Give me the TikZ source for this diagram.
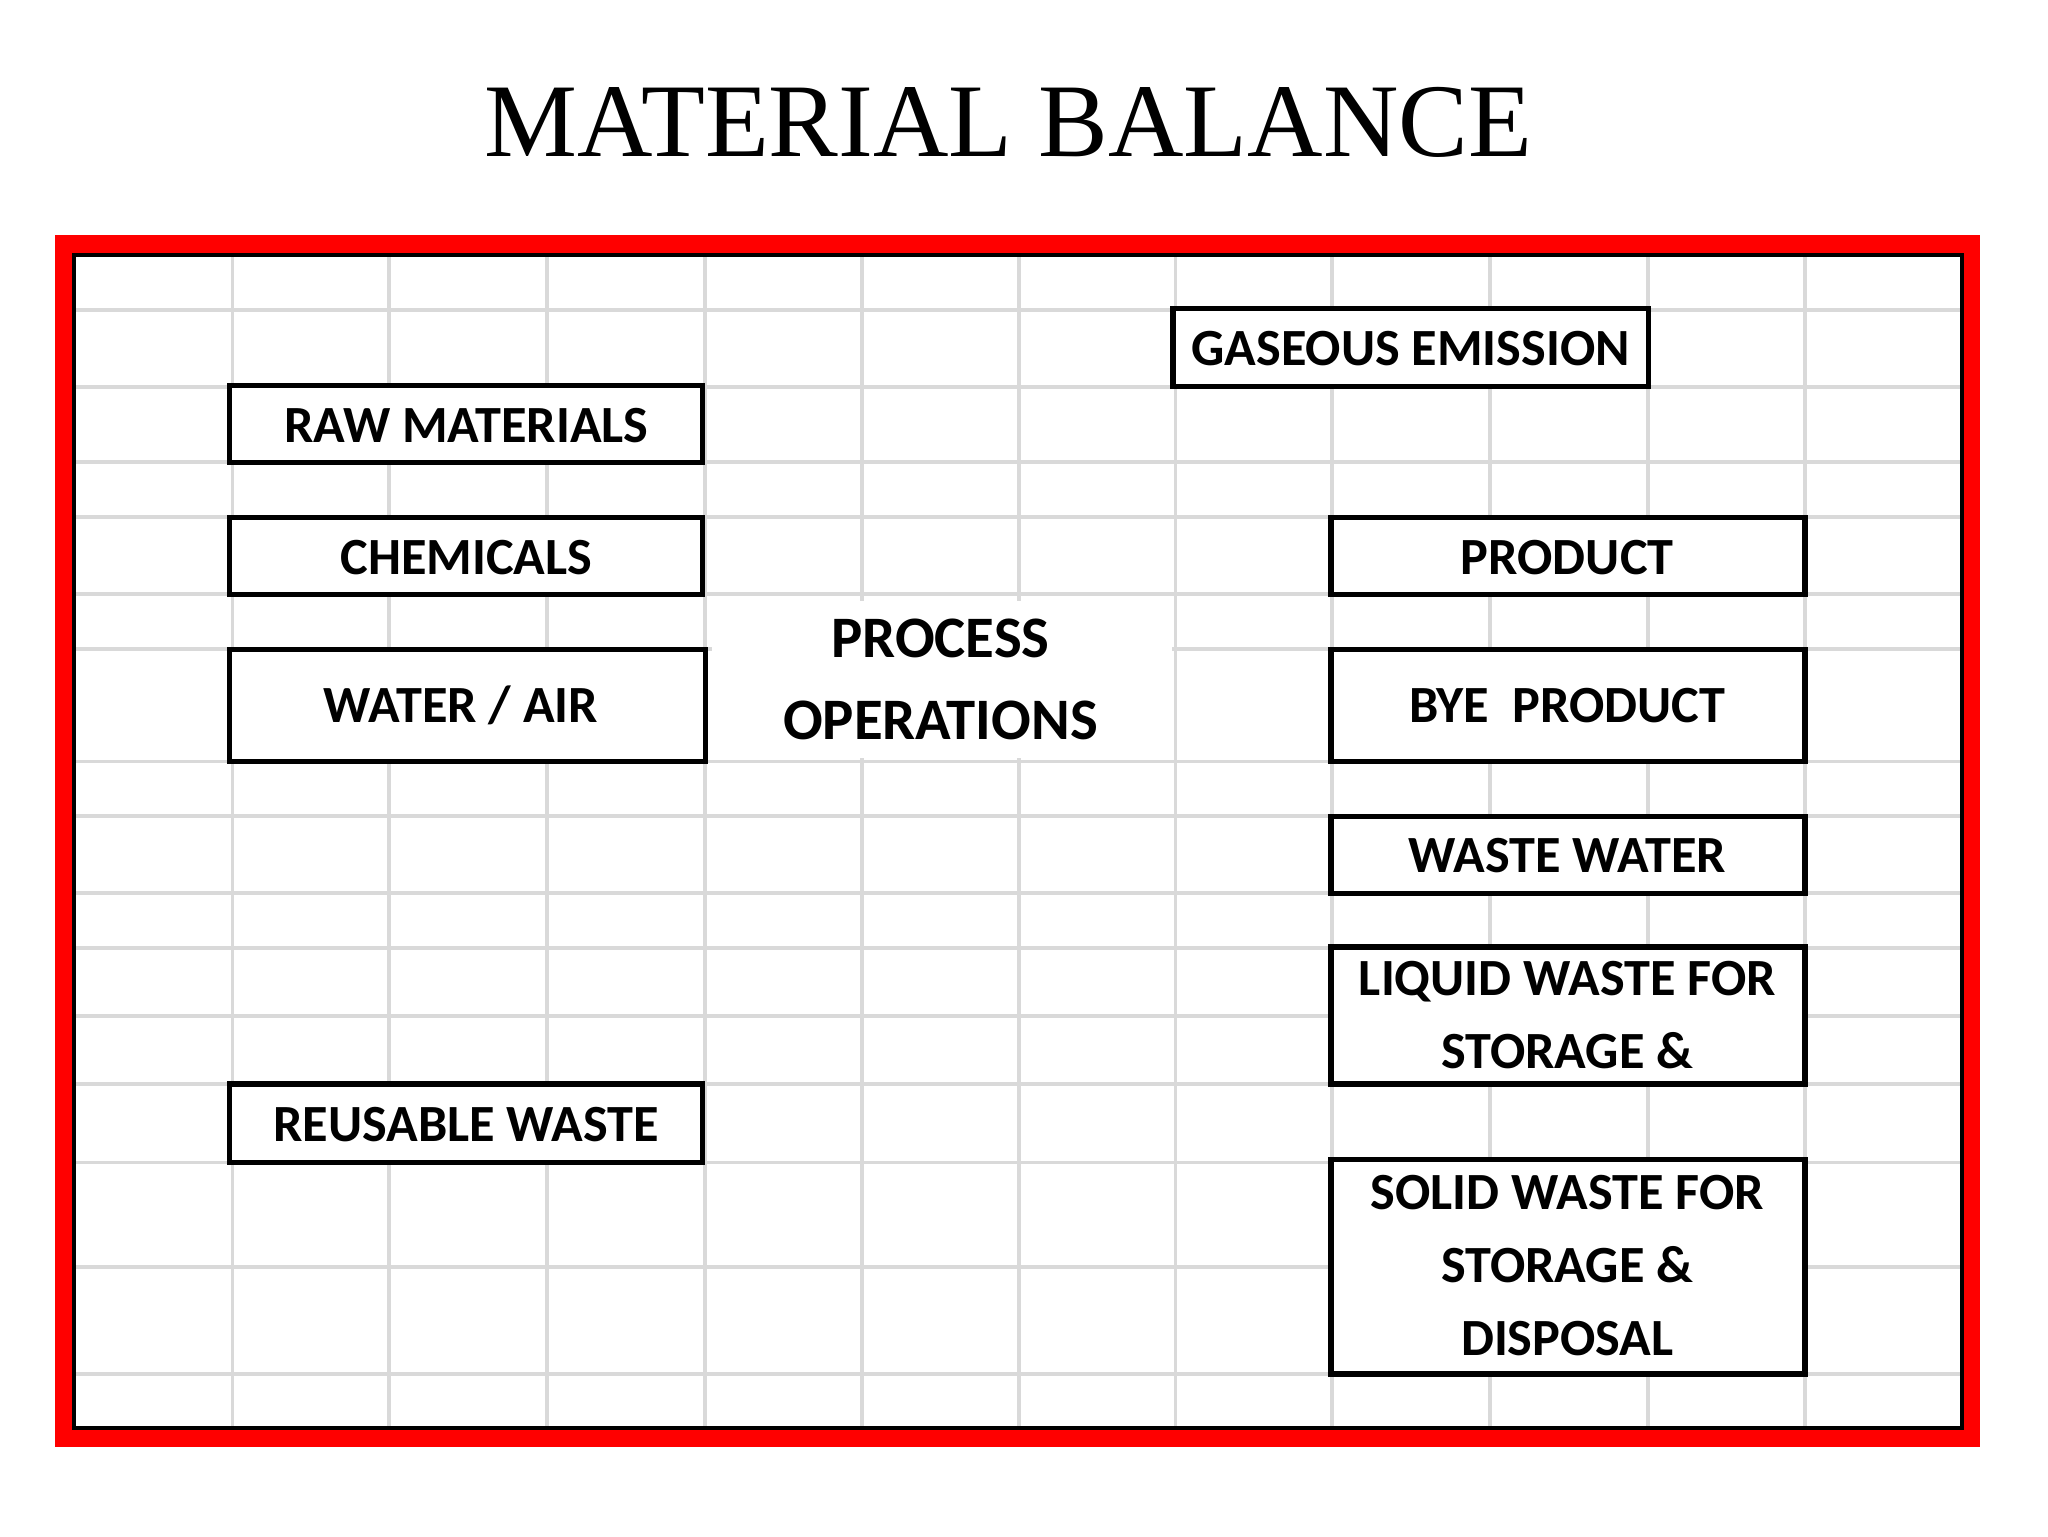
\documentclass[tikz,border=0pt]{standalone}
\usepackage{fontspec}
\setmainfont{Liberation Serif}
\newfontfamily\boxfont{Carlito}
\begin{document}
\begin{tikzpicture}[x=1pt,y=-1pt,
  bx/.style={draw=black,line width=4pt,fill=white},
  lbl/.style={font=\boxfont\bfseries\fontsize{40}{56}\selectfont,align=center,inner sep=0pt},
  gridline/.style={draw=black!15,line width=3pt}]
\useasboundingbox (0,0) rectangle (1568,1176);
\fill[white] (0,0) rectangle (1568,1176);
\node[font=\fontsize{80}{82}\selectfont,inner sep=0pt] (title) at (772,94) {MATERIAL BALANCE};
\draw[red,line width=14pt] (49,187) rectangle (1509,1101);
\fill[white] (57,195) rectangle (1502,1093);
\foreach \x in {178,298,419,540,660,780,900,1020,1141,1262,1382}
  \draw[gridline] (\x,195) -- (\x,1093);
\foreach \y in {237,296,354,396,455,497,583,625,684,726,778,830,890,970,1052}
  \draw[gridline] (57,\y) -- (1502,\y);
\draw[black,line width=3pt] (57,195) rectangle (1502,1093);
\fill[white] (545,460) rectangle (897,580);
\node[lbl,font=\boxfont\bfseries\fontsize{45}{63}\selectfont] (proc) at (720,520) {PROCESS\\OPERATIONS};
\draw[bx] (898,236) rectangle (1262,296); \node[lbl] (gas) at (1080,267) {GASEOUS EMISSION};
\draw[bx] (176,295) rectangle (538,354); \node[lbl] (raw) at (357,326) {RAW MATERIALS};
\draw[bx] (176,396) rectangle (538,455); \node[lbl] (chem) at (357,427) {CHEMICALS};
\draw[bx] (176,497) rectangle (540,583); \node[lbl] (wat) at (353,540) {WATER / AIR};
\draw[bx] (176,830) rectangle (538,890); \node[lbl] (reu) at (357,861) {REUSABLE WASTE};
\draw[bx] (1019,396) rectangle (1382,455); \node[lbl] (prod) at (1200,427) {PRODUCT};
\draw[bx] (1019,497) rectangle (1382,583); \node[lbl] (bye) at (1200,540) {BYE\ \ PRODUCT};
\draw[bx] (1019,625) rectangle (1382,684); \node[lbl] (ww) at (1200,655) {WASTE WATER};
\draw[bx] (1019,725) rectangle (1382,830); \node[lbl] (liq) at (1200,777) {LIQUID WASTE FOR\\STORAGE \&};
\draw[bx] (1019,888) rectangle (1382,1052); \node[lbl] (sol) at (1200,969) {SOLID WASTE FOR\\STORAGE \&\\DISPOSAL};
\end{tikzpicture}
\end{document}
